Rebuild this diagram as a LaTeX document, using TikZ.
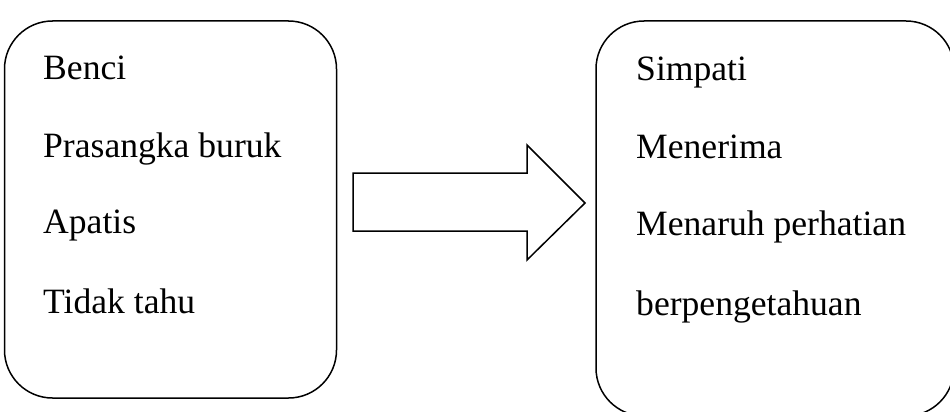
\documentclass[tikz,border=0pt]{standalone}
\usepackage{fontspec}
\setmainfont{Liberation Serif}
\begin{document}
\begin{tikzpicture}[x=1pt,y=-1pt,
  bigbox/.style={draw=black,line width=1.5pt,rounded corners=48pt,inner sep=0pt},
  item/.style={anchor=base west,inner sep=0pt,font=\fontsize{35.6}{40}\selectfont},
  blockarrow/.style={draw=black,line width=1.5pt,line join=miter,fill=white}]
\useasboundingbox (0,0) rectangle (950,412);
\node[bigbox,minimum width=332pt,minimum height=377pt] (lbox) at (170.5,209.5) {};
\node[bigbox,minimum width=358pt,minimum height=395pt] (rbox) at (775,218.5) {};
\node[item] (l1) at (43,80) {Benci};
\node[item] (l2) at (43,157) {Prasangka buruk};
\node[item] (l3) at (43,233) {Apatis};
\node[item] (l4) at (43,313) {Tidak tahu};
\node[item] (r1) at (636,81) {Simpati};
\node[item] (r2) at (636,158) {Menerima};
\node[item] (r3) at (636,235) {Menaruh perhatian};
\node[item] (r4) at (636,315) {berpengetahuan};
\draw[blockarrow] (353,173) -- (527,173) -- (527,145) -- (585,203) -- (527,260) -- (527,231) -- (353,231) -- cycle;
\end{tikzpicture}
\end{document}
